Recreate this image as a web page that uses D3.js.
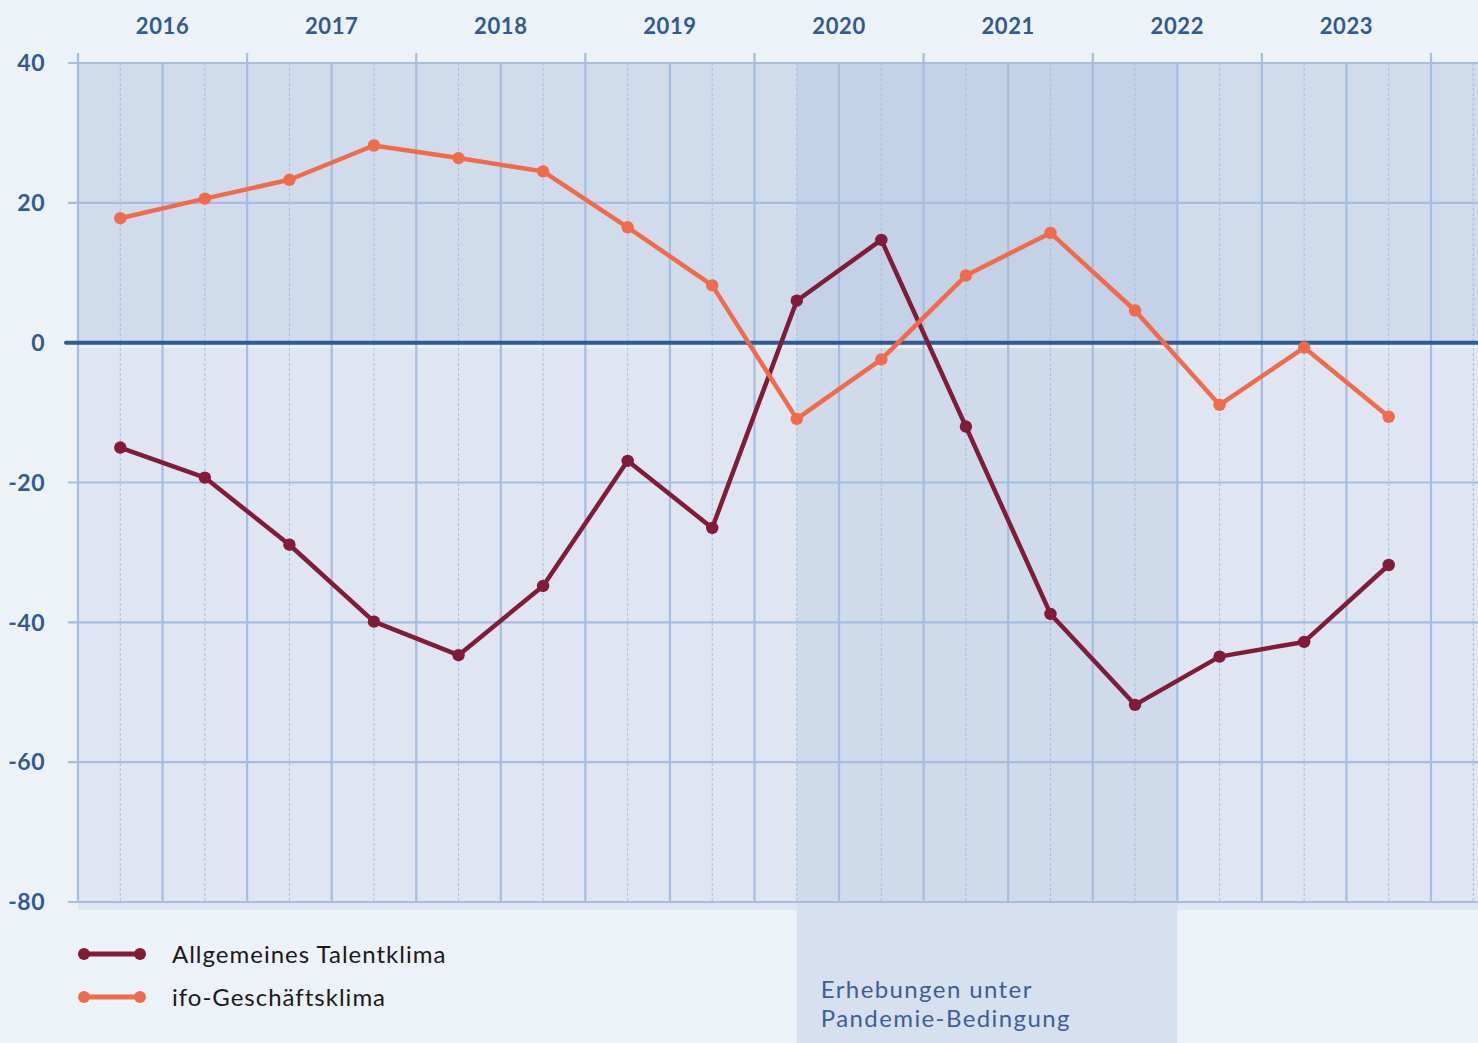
<!DOCTYPE html>
<html>
<head>
<meta charset="utf-8">
<script src="https://cdn.jsdelivr.net/npm/d3@7"></script>
<style>
  body { margin: 0; background: #edf1f8; }
  svg { display: block; }
</style>
</head>
<body>
<div id="graphique"></div>
<script>
// Daten: zwei Erhebungen pro Jahr
const jahre = ['2016', '2017', '2018', '2019', '2020', '2021', '2022', '2023']
const talentklima = [-15, -19.3, -28.9, -39.9, -44.7, -34.8, -16.9, -26.5, 6, 14.7, -12, -38.8, -51.8, -44.9, -42.8, -31.8]
const ifoKlima = [17.8, 20.6, 23.3, 28.2, 26.4, 24.5, 16.5, 8.2, -10.9, -2.4, 9.6, 15.7, 4.6, -8.9, -0.7, -10.6]
const yTicks = [40, 20, 0, -20, -40, -60, -80]
const pandemie = [8.5, 13] // von Erhebung 2020/1 bis Mitte 2022

const width = 1478, height = 1043
const margin = { top: 63, left: 78, bottom: 902 }

// Skalen (Einheit = Halbjahr)
const x = d3.scaleLinear().domain([0, 16]).range([margin.left, 1431])
const y = d3.scaleLinear().domain([-80, 40]).range([margin.bottom, margin.top])

const svg = d3.select('#graphique').append('svg')
    .attr('width', width)
    .attr('height', height)

const fontLabel = 'Lato, "Open Sans", sans-serif'

// Hintergrund des Diagramms
svg.append('rect')
    .attr('x', margin.left).attr('y', margin.bottom)
    .attr('width', width - margin.left).attr('height', 8)
    .attr('fill', '#dfe6f1')
svg.append('rect')
    .attr('x', margin.left).attr('y', y(40))
    .attr('width', width - margin.left).attr('height', y(0) - y(40))
    .attr('fill', '#d0dcec')
svg.append('rect')
    .attr('x', margin.left).attr('y', y(0))
    .attr('width', width - margin.left).attr('height', y(-80) - y(0))
    .attr('fill', '#dfe6f1')

// Pandemie-Bereich
svg.append('rect')
    .attr('x', x(pandemie[0])).attr('y', margin.bottom)
    .attr('width', x(pandemie[1]) - x(pandemie[0])).attr('height', height - margin.bottom)
    .attr('fill', '#d6e0ef')
svg.append('rect')
    .attr('x', x(pandemie[0])).attr('y', y(40))
    .attr('width', x(pandemie[1]) - x(pandemie[0])).attr('height', y(0) - y(40))
    .attr('fill', '#c3d2e7')
svg.append('rect')
    .attr('x', x(pandemie[0])).attr('y', y(0))
    .attr('width', x(pandemie[1]) - x(pandemie[0])).attr('height', y(-80) - y(0))
    .attr('fill', '#cfdaea')

// helle Linie unter der Nulllinie
svg.append('line')
    .attr('x1', margin.left).attr('x2', width)
    .attr('y1', y(0) + 4).attr('y2', y(0) + 4)
    .attr('stroke', '#eaf0f8').attr('stroke-width', 3)

// gestrichelte Linien (Erhebungszeitpunkte)
const grid = svg.append('g')
grid.selectAll('.punkt')
    .data(d3.range(0, 17))
    .enter().append('line')
    .attr('x1', d => x(d + 0.5)).attr('x2', d => x(d + 0.5))
    .attr('y1', y(40)).attr('y2', y(-80))
    .attr('stroke', '#a9bfdf')
    .attr('stroke-width', 1)
    .attr('stroke-dasharray', '3,2')

// horizontale Gitterlinien
grid.selectAll('.hgrid')
    .data(yTicks.filter(d => d !== 0))
    .enter().append('line')
    .attr('x1', margin.left - 10).attr('x2', width)
    .attr('y1', d => y(d)).attr('y2', d => y(d))
    .attr('stroke', '#a6bddf')
    .attr('stroke-width', 2.2)

// vertikale Gitterlinien (Halbjahre), Jahresgrenzen länger
grid.selectAll('.vgrid')
    .data(d3.range(0, 18))
    .enter().append('line')
    .attr('x1', d => x(d)).attr('x2', d => x(d))
    .attr('y1', d => d % 2 === 0 ? y(40) - 10 : y(40))
    .attr('y2', y(-80))
    .attr('stroke', '#a6bddf')
    .attr('stroke-width', 2.2)

// Nulllinie
svg.append('line')
    .attr('x1', margin.left - 12).attr('x2', width)
    .attr('y1', y(0)).attr('y2', y(0))
    .attr('stroke', '#315b8f')
    .attr('stroke-width', 4)
    .attr('stroke-linecap', 'round')

// y-Achse
svg.append('g')
    .selectAll('text')
    .data(yTicks)
    .enter().append('text')
    .attr('x', 45)
    .attr('y', d => y(d))
    .attr('dy', '0.36em')
    .attr('text-anchor', 'end')
    .attr('font-family', fontLabel)
    .attr('font-weight', 'bold')
    .attr('font-size', 23)
    .attr('letter-spacing', 0.5)
    .attr('fill', '#315b8f')
    .text(d => d)

// Jahre oben
svg.append('g')
    .selectAll('text')
    .data(jahre)
    .enter().append('text')
    .attr('x', (d, i) => x(i * 2 + 1))
    .attr('y', 34)
    .attr('text-anchor', 'middle')
    .attr('font-family', fontLabel)
    .attr('font-weight', 'bold')
    .attr('font-size', 22)
    .attr('letter-spacing', 0.6)
    .attr('fill', '#315b8f')
    .text(d => d)

// Linien
const serien = [
    { name: 'Allgemeines Talentklima', werte: talentklima, farbe: '#801b38' },
    { name: 'ifo-Geschäftsklima', werte: ifoKlima, farbe: '#ef6b4b' }
]

const line = d3.line()
    .x((d, i) => x(i + 0.5))
    .y(d => y(d))

for (const s of serien) {
    svg.append('path')
        .datum(s.werte)
        .attr('fill', 'none')
        .attr('stroke', s.farbe)
        .attr('stroke-width', 4.5)
        .attr('stroke-linejoin', 'round')
        .attr('d', line)
    svg.append('g')
        .selectAll('circle')
        .data(s.werte)
        .enter().append('circle')
        .attr('cx', (d, i) => x(i + 0.5))
        .attr('cy', d => y(d))
        .attr('r', 6.2)
        .attr('fill', s.farbe)
}

// Legende
const legende = svg.append('g')
serien.forEach((s, i) => {
    const ly = 954 + i * 43
    legende.append('line')
        .attr('x1', 84).attr('x2', 140)
        .attr('y1', ly).attr('y2', ly)
        .attr('stroke', s.farbe).attr('stroke-width', 5)
    legende.append('circle').attr('cx', 84).attr('cy', ly).attr('r', 6).attr('fill', s.farbe)
    legende.append('circle').attr('cx', 140).attr('cy', ly).attr('r', 6).attr('fill', s.farbe)
    legende.append('text')
        .attr('x', 172).attr('y', ly)
        .attr('dy', '0.36em')
        .attr('font-family', fontLabel)
        .attr('font-size', 24)
        .attr('letter-spacing', 1)
        .attr('fill', '#1a1a1a')
        .text(s.name)
})

// Hinweis Pandemie
const hinweis = svg.append('text')
    .attr('font-family', fontLabel)
    .attr('font-size', 24)
    .attr('letter-spacing', 1.4)
    .attr('fill', '#3d5f94')
hinweis.append('tspan').attr('x', x(pandemie[0]) + 24).attr('y', 998).text('Erhebungen unter')
hinweis.append('tspan').attr('x', x(pandemie[0]) + 24).attr('y', 1027).text('Pandemie-Bedingung')
</script>
</body>
</html>
